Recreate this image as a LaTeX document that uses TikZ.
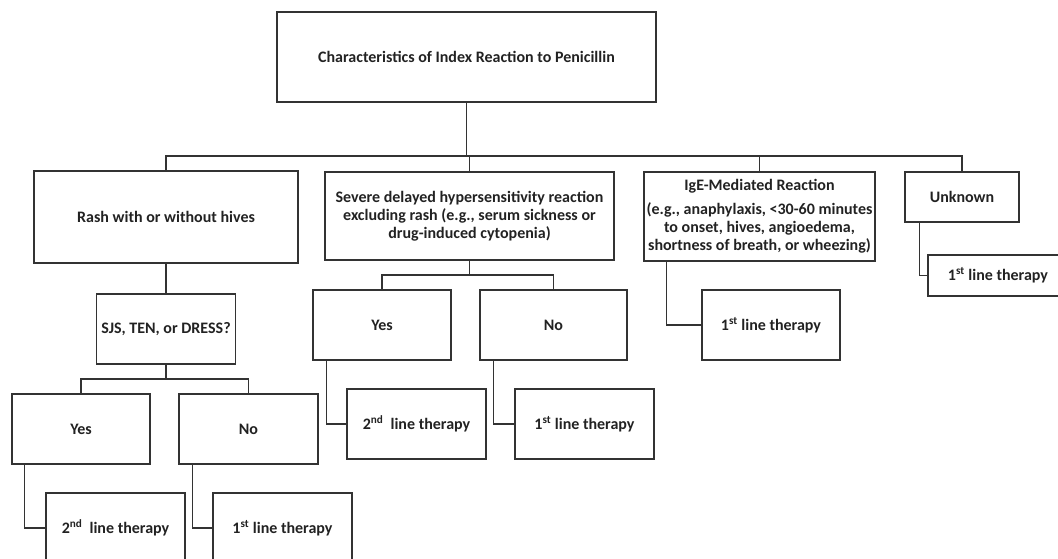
\documentclass[tikz,border=0pt]{standalone}
\usepackage{fontspec}
\setmainfont{Carlito}
\begin{document}
\begin{tikzpicture}[x=1pt,y=-1pt,
  box/.style={draw=linec, line width=1.2pt, inner sep=0pt, align=center, text=txtc,
    font=\fontsize{16}{18}\selectfont\bfseries},
  conn/.style={draw=linec, line width=1.2pt}]
\definecolor{linec}{HTML}{333333}
\definecolor{txtc}{HTML}{222222}
\useasboundingbox (0,0) rectangle (1058,558);
% nodes
\node[box, minimum width=379, minimum height=90] (top) at (466.5,57) {Characteristics of Index Reaction to Penicillin};
\node[box, minimum width=264, minimum height=92] (rash) at (166,217) {Rash with or without hives};
\node[box, minimum width=289, minimum height=88] (sev) at (469.5,216) {Severe delayed hypersensitivity reaction\\excluding rash (e.g., serum sickness or\\drug-induced cytopenia)};
\node[box, minimum width=231, minimum height=89] (ige) at (759.5,216.5) {IgE-Mediated Reaction\\[6pt](e.g., anaphylaxis, {<}30-60 minutes\\to onset, hives, angioedema,\\shortness of breath, or wheezing)};
\node[box, minimum width=114, minimum height=50] (unk) at (962,197) {Unknown};
\node[box, minimum width=140, minimum height=41] (unkt) at (998,275.5) {1\textsuperscript{st} line therapy};
\node[box, minimum width=139, minimum height=70] (sjs) at (166,329) {SJS, TEN, or DRESS?};
\node[box, minimum width=138, minimum height=70] (ryes) at (81,429) {Yes};
\node[box, minimum width=139, minimum height=70] (rno) at (248.5,429) {No};
\node[box, minimum width=139, minimum height=70] (ryest) at (115.5,528) {2\textsuperscript{nd}\ \ line therapy};
\node[box, minimum width=139, minimum height=70] (rnot) at (282.5,528) {1\textsuperscript{st} line therapy};
\node[box, minimum width=138, minimum height=70] (syes) at (382,325) {Yes};
\node[box, minimum width=147, minimum height=70] (sno) at (553.5,325) {No};
\node[box, minimum width=139, minimum height=70] (syest) at (416.5,424) {2\textsuperscript{nd}\ \ line therapy};
\node[box, minimum width=139, minimum height=70] (snot) at (584.5,424) {1\textsuperscript{st} line therapy};
\node[box, minimum width=138, minimum height=70] (iget) at (771,325) {1\textsuperscript{st} line therapy};
% buses
\coordinate (bus) at (466,156);
\draw[conn] (top.south) -- (top.south|-bus);
\draw[conn] (rash.north) |- (unk.north|-bus) -- (unk.north);
\draw[conn] (sev.north) -- (sev.north|-bus);
\draw[conn] (ige.north) -- (ige.north|-bus);
\coordinate (rbus) at (0,379);
\draw[conn] (rash.south) -- (sjs.north);
\draw[conn] (sjs.south) -- (sjs.south|-rbus);
\draw[conn] (ryes.north) |- (rno.north|-rbus) -- (rno.north);
\coordinate (sbus) at (0,275);
\draw[conn] (sev.south) -- (sev.south|-sbus);
\draw[conn] (syes.north) |- (sno.north|-sbus) -- (sno.north);
% therapy links
\draw[conn] ([xshift=13pt]ryes.south west) |- (ryest.west);
\draw[conn] ([xshift=14pt]rno.south west) |- (rnot.west);
\draw[conn] ([xshift=14pt]syes.south west) |- (syest.west);
\draw[conn] ([xshift=14pt]sno.south west) |- (snot.west);
\draw[conn] ([xshift=23pt]ige.south west) |- (iget.west);
\draw[conn] ([xshift=15pt]unk.south west) |- (unkt.west);
\end{tikzpicture}
\end{document}
